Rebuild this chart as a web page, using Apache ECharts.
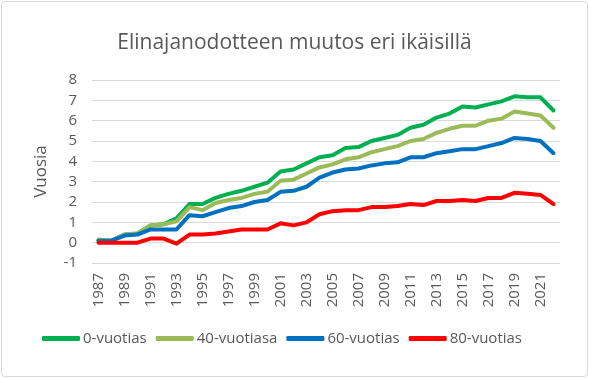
<!DOCTYPE html>
<html>
<head>
<meta charset="utf-8">
<script src="https://cdn.jsdelivr.net/npm/echarts@6/dist/echarts.min.js"></script>
<style>
html,body{margin:0;padding:0;background:#fff;}
#wrap{position:absolute;left:1px;top:1px;width:585px;height:374px;border:1px solid #d9d9d9;border-radius:4px;}
#c{position:absolute;left:0;top:0;width:589px;height:378px;}
</style>
</head>
<body>
<div id="wrap"></div>
<div id="c"></div>
<script>
const years = [];
for (let y = 1987; y <= 2022; y++) years.push(String(y));
const s0 = [0.1,0.1,0.4,0.45,0.85,0.9,1.2,1.9,1.9,2.2,2.4,2.55,2.75,2.95,3.5,3.6,3.9,4.2,4.3,4.65,4.7,5.0,5.15,5.3,5.65,5.8,6.15,6.35,6.7,6.65,6.8,6.95,7.2,7.15,7.15,6.5];
const s40 = [0.15,0.1,0.4,0.45,0.85,0.9,1.05,1.75,1.6,1.95,2.1,2.2,2.4,2.5,3.05,3.1,3.4,3.7,3.85,4.1,4.2,4.45,4.6,4.75,5.0,5.1,5.4,5.6,5.75,5.75,6.0,6.1,6.45,6.35,6.25,5.65];
const s60 = [0.1,0.1,0.35,0.4,0.65,0.65,0.65,1.35,1.3,1.5,1.7,1.8,2.0,2.1,2.5,2.55,2.75,3.2,3.45,3.6,3.65,3.8,3.9,3.95,4.2,4.2,4.4,4.5,4.6,4.6,4.75,4.9,5.15,5.1,5.0,4.4];
const s80 = [0,0,0,0,0.2,0.2,-0.05,0.4,0.4,0.45,0.55,0.65,0.65,0.65,0.95,0.85,1.0,1.4,1.55,1.6,1.6,1.75,1.75,1.8,1.9,1.85,2.05,2.05,2.1,2.05,2.2,2.2,2.45,2.4,2.35,1.9];
const names = ['0-vuotias','40-vuotiasa','60-vuotias','80-vuotias'];
const colors = ['#00B050','#9BBB59','#0070C0','#FF0000'];
const data = [s0,s40,s60,s80];
const font = 'Open Sans, Noto Sans, sans-serif';
const chart = echarts.init(document.getElementById('c'));
chart.setOption({
  animation:false,
  title:{text:'Elinajanodotteen muutos eri ikäisillä',left:'center',top:28,
    textStyle:{fontFamily:font,fontSize:21,fontWeight:'normal',color:'#595959'}},
  grid:{left:92,right:29,top:80,bottom:115,containLabel:false},
  legend:{bottom:27,left:37,itemWidth:38,itemHeight:5,itemGap:9,icon:'roundRect',
    textStyle:{fontFamily:font,fontSize:15,color:'#595959',padding:[0,0,0,-2]},data:names},
  xAxis:{type:'category',data:years,boundaryGap:true,
    axisLine:{show:false},axisTick:{show:false},
    axisLabel:{interval:1,rotate:90,fontFamily:font,fontSize:15,color:'#595959',margin:10}},
  yAxis:{type:'value',min:-1,max:8,interval:1,name:'Vuosia',nameLocation:'middle',nameGap:42,
    nameTextStyle:{fontFamily:font,fontSize:17,color:'#595959'},
    axisLabel:{fontFamily:font,fontSize:15,color:'#595959',margin:15},
    splitLine:{lineStyle:{color:'#d9d9d9',width:1}}},
  series:data.map((d,i)=>({name:names[i],type:'line',data:d,symbol:'none',
    lineStyle:{width:4,color:colors[i],cap:'round',join:'round'},itemStyle:{color:colors[i]}}))
});
</script>
</body>
</html>
